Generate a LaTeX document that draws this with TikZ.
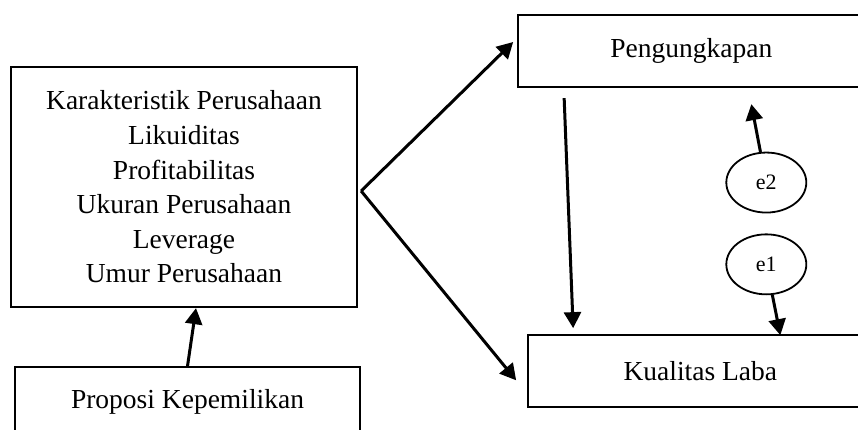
\documentclass[tikz,border=0pt]{standalone}
\usepackage{fontspec}
\setmainfont{Liberation Serif}
\usetikzlibrary{positioning,shapes.geometric,arrows.meta}

\tikzset{
  var/.style={draw, line width=2.3pt, align=center, inner sep=0pt,
    font=\fontsize{27.5}{34.6}\selectfont},
  err/.style={draw, ellipse, line width=1.8pt, minimum width=80pt,
    minimum height=60pt, inner sep=0pt, font=\fontsize{22}{24}\selectfont},
  path/.style={line width=3pt, -{Triangle[length=16pt,width=17pt]}}
}

\begin{document}
\begin{tikzpicture}[x=1pt, y=1pt]
  \useasboundingbox (0,0) rectangle (858,-430);
  \clip (0,0) rectangle (858,-430);

  % Nodes
  \node[var, minimum width=346pt, minimum height=240pt] at (184,-187) (char)
    {Karakteristik Perusahaan\\ Likuiditas\\ Profitabilitas\\ Ukuran Perusahaan\\ Leverage\\ Umur Perusahaan};
  \node[var, below=58pt of char, xshift=3.5pt, minimum width=345pt, minimum height=70pt] (own) {Proposi Kepemilikan};

  \node[var, right=159pt of char, yshift=136pt, minimum width=346pt, minimum height=72pt] (disc) {Pengungkapan};
  \node[var, below=246pt of disc, xshift=9pt, minimum width=344pt, minimum height=72pt] (earn) {Kualitas Laba};

  \node[err, below=63.5pt of disc, xshift=75pt] (e2) {e2};
  \node[err, below=20pt of e2] (e1) {e1};

  % Edges
  \draw[path] (own.north) -- ([xshift=12pt]char.south);
  \draw[path] ([xshift=3pt,yshift=-4pt]char.east) -- ([xshift=-4pt,yshift=9pt]disc.west);
  \draw[path] ([xshift=3pt,yshift=-4pt]char.east) -- ([xshift=-11pt,yshift=-9pt]earn.west);
  \draw[path] ([xshift=47pt,yshift=-10pt]disc.south west) -- ([xshift=46pt,yshift=6pt]earn.north west);
  \draw[path] (e2) -- ([xshift=60pt,yshift=-16pt]disc.south);
  \draw[path] (e1) -- ([xshift=80pt,yshift=-1pt]earn.north);

\end{tikzpicture}
\end{document}
